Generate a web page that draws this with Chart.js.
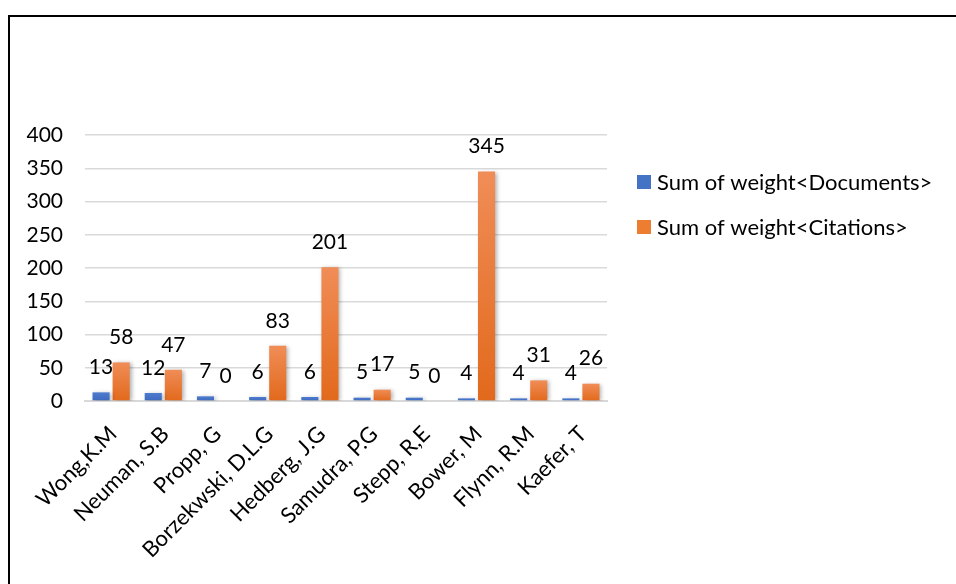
<!DOCTYPE html>
<html>
<head>
<meta charset="utf-8">
<script src="https://cdn.jsdelivr.net/npm/chart.js@4.4.1/dist/chart.umd.min.js"></script>
<style>
    html, body { margin: 0; padding: 0; background: #fff; overflow: hidden; }
    #wrap { position: relative; width: 956px; height: 584px; }
    #frame {
        position: absolute; left: 8px; top: 15px;
        width: 1000px; height: 1000px;
        border: 2px solid #000; box-sizing: border-box;
    }
    #chartBox { position: absolute; left: 0; top: 0; width: 956px; height: 584px; }
</style>
</head>
<body>
<div id="wrap">
    <div id="frame"></div>
    <div id="chartBox"><canvas id="authorsChart"></canvas></div>
</div>
<script>
const authors = ['Wong,K.M', 'Neuman, S.B', 'Propp, G', 'Borzekwski, D.L.G', 'Hedberg, J.G',
    'Samudra, P.G', 'Stepp, R,E', 'Bower, M', 'Flynn, R.M', 'Kaefer, T'];
const documents = [13, 12, 7, 6, 6, 5, 5, 4, 4, 4];
const citations = [58, 47, 0, 83, 201, 17, 0, 345, 31, 26];
const yTicks = [0, 50, 100, 150, 200, 250, 300, 350, 400];

const FONT = 'Lato, "Open Sans", sans-serif';

function barGradient(top, bottom) {
    return function(context) {
        const chart = context.chart;
        const y = chart.scales && chart.scales.y;
        if (!chart.chartArea || !y || context.type !== 'data') return bottom;
        const v = context.raw || 0;
        const y0 = y.getPixelForValue(0);
        const y1 = y.getPixelForValue(v);
        if (y0 - y1 < 1) return bottom;
        const g = chart.ctx.createLinearGradient(0, y1, 0, y0);
        g.addColorStop(0, top);
        g.addColorStop(1, bottom);
        return g;
    };
}

// data labels above each bar
const valueLabels = {
    id: 'valueLabels',
    afterDatasetsDraw(chart) {
        const ctx = chart.ctx;
        ctx.save();
        ctx.font = '21px ' + FONT;
        ctx.fillStyle = '#000';
        ctx.textAlign = 'center';
        ctx.textBaseline = 'middle';
        chart.data.datasets.forEach(function(ds, i) {
            const meta = chart.getDatasetMeta(i);
            meta.data.forEach(function(bar, j) {
                ctx.fillText(String(ds.data[j]), bar.x, bar.y - 25);
            });
        });
        ctx.restore();
    }
};

// soft shadow under bars, like the office chart
const barShadow = {
    id: 'barShadow',
    beforeDatasetDraw(chart) {
        const ctx = chart.ctx;
        ctx.save();
        ctx.shadowColor = 'rgba(0,0,0,0.3)';
        ctx.shadowBlur = 4;
        ctx.shadowOffsetX = 2;
        ctx.shadowOffsetY = 1;
    },
    afterDatasetDraw(chart) {
        chart.ctx.restore();
    }
};

// legend to the right of the plot (built-in one is capped in width)
const sideLegend = {
    id: 'sideLegend',
    afterDraw(chart) {
        const ctx = chart.ctx;
        const area = chart.chartArea;
        ctx.save();
        ctx.font = '22px ' + FONT;
        ctx.textBaseline = 'middle';
        chart.data.datasets.forEach(function(ds, i) {
            const cy = area.top + 47 + i * 45;
            const x = area.right + 30;
            ctx.fillStyle = ds.legendColor;
            ctx.fillRect(x, cy - 7, 14, 14);
            ctx.fillStyle = '#000';
            ctx.fillText(ds.label, x + 20, cy + 1);
        });
        ctx.restore();
    }
};

document.addEventListener('DOMContentLoaded', function() {
    const ctx = document.getElementById('authorsChart').getContext('2d');
    new Chart(ctx, {
        type: 'bar',
        data: {
            labels: authors,
            datasets: [{
                label: 'Sum of weight<Documents>',
                data: documents,
                backgroundColor: barGradient('#4d7bd0', '#3d69bb'),
                legendColor: '#4472c4',
                categoryPercentage: 0.77,
                barPercentage: 0.85
            }, {
                label: 'Sum of weight<Citations>',
                data: citations,
                backgroundColor: barGradient('#f08d57', '#e2691c'),
                legendColor: '#ed7d31',
                categoryPercentage: 0.77,
                barPercentage: 0.85
            }]
        },
        options: {
            responsive: true,
            maintainAspectRatio: false,
            animation: false,
            layout: { padding: { left: 0, top: 135, right: 349, bottom: 0 } },
            plugins: {
                tooltip: { enabled: false },
                legend: { display: false }
            },
            scales: {
                x: {
                    grid: { display: false },
                    border: { display: true, color: '#d9d9d9', width: 2 },
                    ticks: {
                        font: { family: FONT, size: 22 },
                        color: '#000',
                        maxRotation: 45,
                        minRotation: 45,
                        padding: 12,
                        labelOffset: 2
                    },
                    afterFit(axis) {
                        axis.height = 183;
                        axis.paddingLeft = 0;
                        axis.paddingRight = 0;
                    }
                },
                y: {
                    min: 0,
                    max: 400,
                    afterBuildTicks(axis) {
                        axis.ticks = yTicks.map(function(v) { return { value: v }; });
                    },
                    grid: { color: '#d9d9d9', lineWidth: 1.5, drawTicks: false },
                    border: { display: false },
                    ticks: {
                        font: { family: FONT, size: 21 },
                        color: '#000',
                        padding: 22
                    },
                    afterFit(axis) {
                        axis.width = 85;
                        axis.paddingTop = 0;
                        axis.paddingBottom = 0;
                    }
                }
            }
        },
        plugins: [barShadow, valueLabels, sideLegend]
    });
});
</script>
</body>
</html>
